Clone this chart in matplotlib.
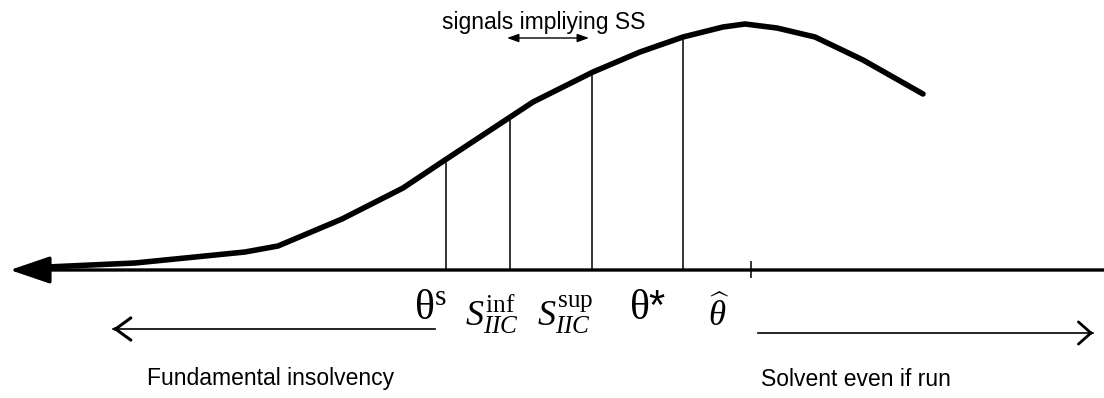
import matplotlib
matplotlib.use("Agg")
import matplotlib.pyplot as plt

plt.rcParams["font.family"] = ["Liberation Sans", "DejaVu Sans"]
plt.rcParams["mathtext.fontset"] = "custom"
plt.rcParams["mathtext.rm"] = "Liberation Serif"
plt.rcParams["mathtext.it"] = "Liberation Serif:italic"

# curve vertices (pixel space, y down)
curve_x = [47, 135, 245, 278, 342, 403, 445, 533, 593, 640, 683, 723, 745, 777, 815, 863, 923]
curve_y = [267, 263, 252, 246, 219, 188, 160, 102, 72, 52, 37, 27, 24, 28, 37, 60, 94]

# thresholds on the axis and where each vertical meets the curve
mark_x = [446, 510, 592, 683]
mark_top = [160, 119, 73, 37]
mark_labels = [r"$\mathrm{θ}^{\mathrm{s}}$", r"$S_{IIC}^{\mathrm{inf}}$",
               r"$S_{IIC}^{\mathrm{sup}}$", r"$\mathrm{θ}$*"]
label_x = [430, 492, 565, 648]
label_base = [319, 326, 326, 319]
label_size = [30, 26, 26, 30]
hat_x = 751
hat_label_x = 719

AXIS_Y = 270
W, H = 1104, 398

fig = plt.figure(figsize=(W / 100, H / 100), dpi=100)
ax = fig.add_axes([0, 0, 1, 1])
ax.set_xlim(0, W)
ax.set_ylim(H, 0)
ax.axis("off")

# horizontal axis with filled arrowhead pointing left
ax.annotate("", xy=(10, AXIS_Y), xytext=(W, AXIS_Y),
            arrowprops=dict(arrowstyle="-|>,head_length=25,head_width=8.5",
                            mutation_scale=1, lw=2.4, color="black",
                            shrinkA=0, shrinkB=0))

# the curve
ax.plot(curve_x, curve_y, color="black", lw=4.0, solid_joinstyle="miter",
        solid_capstyle="round")

# vertical lines from the axis to the curve
ax.vlines(mark_x, mark_top, AXIS_Y, color="black", lw=1.1)
ax.vlines(hat_x, 261, 278, color="black", lw=1.1)

for lx, lb, ls, lab in zip(label_x, label_base, label_size, mark_labels):
    ax.text(lx, lb, lab, ha="center", va="baseline", fontsize=ls)
ax.text(hat_label_x, 326, r"$\widehat{\theta}$", ha="center", va="baseline", fontsize=25)

# signals implying SS
ax.text(544, 22, "signals impliying SS", ha="center", va="center", fontsize=16.5)
ax.annotate("", xy=(507, 38), xytext=(589, 38),
            arrowprops=dict(arrowstyle="<|-|>,head_length=7,head_width=2.5",
                            mutation_scale=1, lw=1.0, color="black",
                            shrinkA=0, shrinkB=0))

# region arrows: thin shaft, heavier open head
ax.plot([113, 435], [329, 329], color="black", lw=1.2)
ax.annotate("", xy=(113, 329), xytext=(116, 329),
            arrowprops=dict(arrowstyle="->,head_length=11,head_width=8",
                            mutation_scale=1, lw=2.2, color="black",
                            shrinkA=0, shrinkB=0))
ax.plot([758, 1093], [333, 333], color="black", lw=1.2)
ax.annotate("", xy=(1093, 333), xytext=(1090, 333),
            arrowprops=dict(arrowstyle="->,head_length=9,head_width=8",
                            mutation_scale=1, lw=2.0, color="black",
                            shrinkA=0, shrinkB=0))

ax.text(271, 378, "Fundamental insolvency", ha="center", va="center", fontsize=16.5)
ax.text(856, 380, "Solvent even if run", ha="center", va="center", fontsize=16.5)

fig.savefig("out.png", dpi=100)
